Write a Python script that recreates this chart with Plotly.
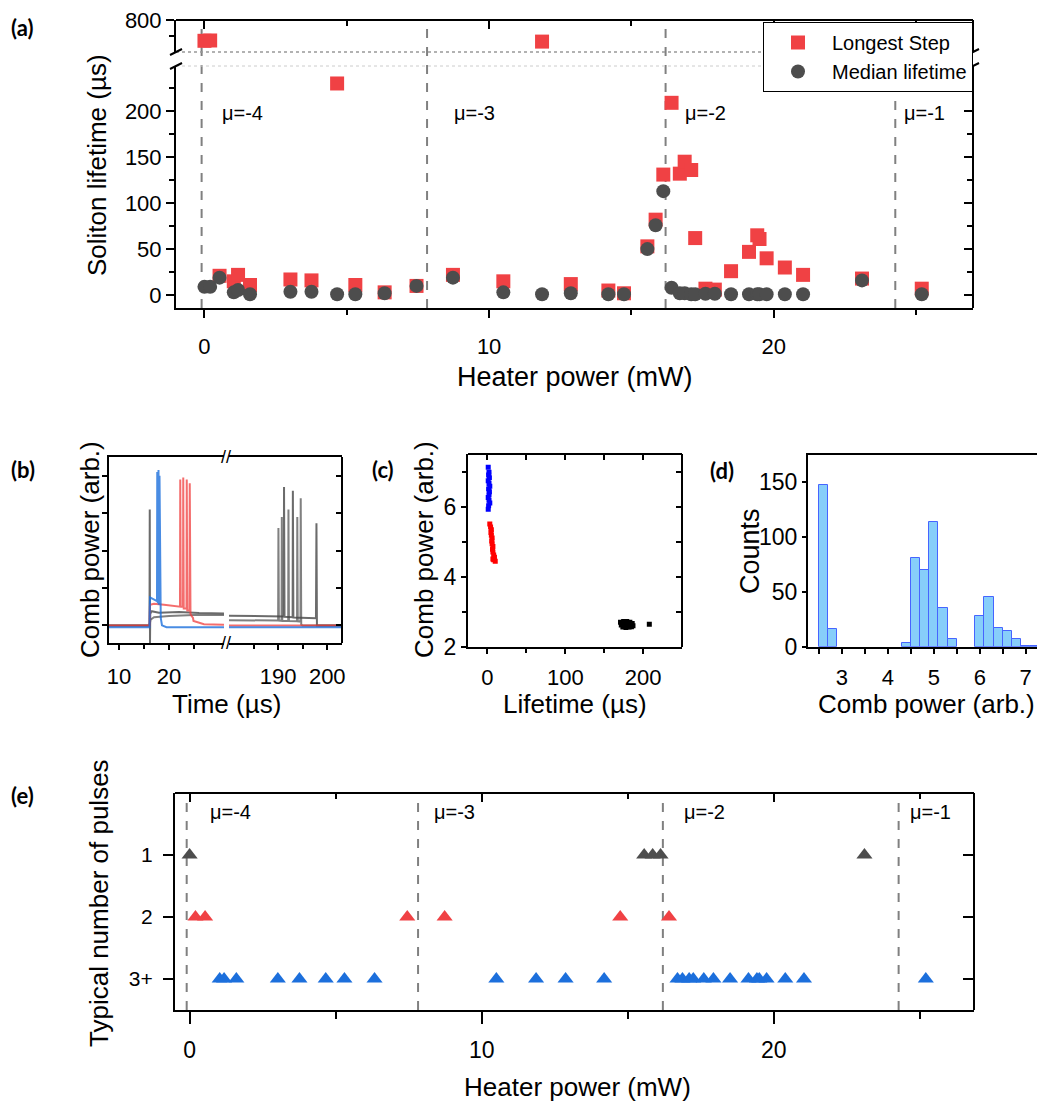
import plotly.graph_objects as go

W, H = 1045, 1102
OFF = 8  # the page body margin the figure is drawn inside
FONT = "Liberation Sans, Arial, sans-serif"

# ---- (a) and (e): heater power sweep ----
heater_mw = [0.0, 0.2, 0.53, 1.03, 1.18, 1.6, 3.02, 3.76, 4.66, 5.3, 6.33, 7.45, 8.73,
             10.5, 11.86, 12.87, 14.19, 14.74, 15.56, 15.85, 16.12, 16.41, 16.7, 16.87,
             17.1, 17.24, 17.6, 17.93, 18.5, 19.13, 19.42, 19.5, 19.75, 20.39, 21.03,
             23.1, 25.2]
longest_step_us = [670, 672, 21, 15, 22, 11, 17, 16, 230, 11, 3, 10, 22,
                   15, 665, 12, 5, 2, 53, 82, 131, 209, 132, 145,
                   136, 62, 7, 6, 26, 47, 65, 61, 40, 30, 22,
                   18, 7]
median_lifetime_us = [9, 9, 19, 3, 5.5, 1, 3.6, 3.6, 1, 1, 2, 10, 19,
                      3, 1, 2, 1, 1, 50, 76, 113, 8, 2, 2,
                      1, 1, 1.5, 1.5, 1, 1, 1, 1, 1, 1, 1,
                      16, 1]
typical_pulses = [1, 2, 2, 3, 3, 3, 3, 3, 3, 3, 3, 2, 2,
                  3, 3, 3, 3, 2, 1, 1, 1, 2, 3, 3,
                  3, 3, 3, 3, 3, 3, 3, 3, 3, 3, 3,
                  1, 3]
mu_edges_mw = [-0.1, 7.82, 16.2, 24.27]
mu_labels = ["μ=-4", "μ=-3", "μ=-2", "μ=-1"]
mu_label_x_a = [0.53, 8.7, 16.8, 24.5]
mu_label_x_e = [0.62, 8.3, 16.85, 24.6]

# ---- (b): comb power traces vs time ----
blue_t = [8, 16.1, 16.2, 16.6, 17.2, 17.6, 17.65, 17.75, 17.9, 17.95, 18.1, 18.2, 18.35,
          18.6, 19.5, 31, 180, 203]
blue_p = [-0.05, -0.05, 0.75, 0.72, 0.68, 0.65, 4.1, 0.6, 4.15, 0.55, 4.0, 0.5, 0.2,
          0.0, -0.05, -0.05, -0.05, -0.05]
red_t = [8, 16.1, 16.2, 17, 19, 21, 22.2, 22.25, 22.35, 22.8, 22.85, 22.95, 23.5, 23.55,
         23.65, 24.1, 24.15, 24.3, 24.8, 24.9, 25.5, 27, 31, 180, 203]
red_p = [0, 0, 0.55, 0.58, 0.55, 0.52, 0.5, 3.9, 0.5, 0.5, 3.95, 0.45, 0.45, 3.9,
         0.4, 0.4, 3.8, 0.3, 0.2, 0.12, 0.1, 0.03, 0.02, 0.0, 0.0]
gray1_t = [8, 16.1, 16.15, 16.2, 16.25, 16.5, 18, 22, 26, 31, 180, 186, 191.15, 191.2,
           191.3, 192.95, 193.0, 193.1, 197.7, 197.8, 197.9, 203]
gray1_p = [0, 0, 3.1, -0.47, 0.3, 0.38, 0.34, 0.36, 0.33, 0.32, 0.26, 0.25, 0.24, 3.7,
           0.23, 0.22, 3.6, 0.21, 0.19, 2.73, 0.0, 0.0]
gray2_t = [8, 16.1, 16.3, 17, 20, 25, 31, 180, 190.0, 190.06, 190.15, 190.7, 190.75,
           190.85, 192.05, 192.1, 192.2, 193.85, 193.9, 194.0, 194.55, 194.6, 194.7, 195, 203]
gray2_p = [0, 0, 0.15, 0.22, 0.25, 0.28, 0.28, 0.14, 0.13, 2.6, 0.13, 0.12, 2.9,
           0.12, 0.12, 3.1, 0.12, 0.11, 2.9, 0.11, 0.1, 3.4, 0.02, 0.0, 0.0]

# ---- (c): comb power vs lifetime ----
blue_life = [1, 2, 1.5, 2.5, 1, 2, 3, 1.5, 2.5, 2, 1, 2, 3, 1.5, 1]
blue_power = [7.12, 6.98, 6.9, 6.82, 6.74, 6.66, 6.58, 6.5, 6.42, 6.34, 6.26, 6.18, 6.1, 6.02, 5.92]
red_life = [3, 4, 5, 4.5, 5, 6, 5.5, 6, 7, 6.5, 7, 8, 9, 8, 10, 7]
red_power = [5.5, 5.42, 5.34, 5.26, 5.18, 5.1, 5.02, 4.94, 4.86, 4.78, 4.7, 4.62, 4.55, 4.48, 4.44, 4.5]
black_life = [171, 175, 179, 183, 186, 172, 176, 180, 184, 187, 174, 178, 182, 185, 208]
black_power = [2.7, 2.72, 2.72, 2.7, 2.66, 2.62, 2.63, 2.62, 2.62, 2.6, 2.56, 2.55, 2.56, 2.57, 2.64]

# ---- (d): histogram of comb power ----
bin_left = [2.5, 2.7, 4.3, 4.5, 4.7, 4.9, 5.1, 5.3, 5.9, 6.1, 6.3, 6.5, 6.7, 6.9, 7.1]
bin_counts = [148, 16, 3, 81, 70, 114, 35, 7, 28, 45, 17, 14, 7, 1, 1]
bin_width = 0.2

RED = "#f04144"
GRAY = "#4d4d4d"
BLUE = "#1c6fdc"
A_TOP = 20  # top frame of panel (a), page px


def fx(x):
    return (x - OFF) / W


def fy(y):
    return 1 - (y - OFF) / H


def axis(size=22, **kw):
    d = dict(showline=True, linecolor="black", linewidth=2, ticks="outside",
             tickcolor="black", tickwidth=2, ticklen=8, showgrid=False, zeroline=False,
             automargin=False, ticklabeloverflow="allow",
             tickfont=dict(size=size, family=FONT, color="black"), tickmode="array")
    d.update(kw)
    return d


def minor(vals, ticks="outside", ln=5):
    return dict(ticks=ticks, tickvals=vals, ticklen=ln, tickwidth=2, tickcolor="black", showgrid=False)


def overlay(base, side, pos, rng, vals, mvals=None, **kw):
    d = axis(overlaying=base, side=side, anchor="free", position=pos, range=rng,
             ticks="inside", tickvals=vals, showticklabels=False, **kw)
    if mvals:
        d["minor"] = minor(mvals, "inside")
    return d


fig = go.Figure()

# (a)
lo_x = [x for x, v in zip(heater_mw, longest_step_us) if v < 250]
lo_v = [v for v in longest_step_us if v < 250]
hi_x = [x for x, v in zip(heater_mw, longest_step_us) if v >= 250]
hi_v = [v for v in longest_step_us if v >= 250]
fig.add_trace(go.Scatter(x=lo_x, y=lo_v, mode="markers", name="Longest Step",
                         marker=dict(symbol="square", size=14, color=RED), xaxis="x", yaxis="y"))
fig.add_trace(go.Scatter(x=hi_x, y=hi_v, mode="markers", showlegend=False,
                         marker=dict(symbol="square", size=14, color=RED), xaxis="x", yaxis="y2"))
fig.add_trace(go.Scatter(x=heater_mw, y=median_lifetime_us, mode="markers", name="Median lifetime",
                         marker=dict(symbol="circle", size=14, color=GRAY), xaxis="x", yaxis="y"))

# (b)
for ts, ps, col in [(gray2_t, gray2_p, "rgba(85,85,85,0.75)"), (gray1_t, gray1_p, "rgba(70,70,70,0.8)"),
                    (red_t, red_p, "rgba(240,60,60,0.75)"), (blue_t, blue_p, "rgba(28,111,220,0.8)")]:
    for xa, lo, hi in [("x3", 0, 100), ("x4", 100, 300)]:
        tt = [t for t in ts if lo <= t <= hi]
        pp = [p for t, p in zip(ts, ps) if lo <= t <= hi]
        fig.add_trace(go.Scatter(x=tt, y=pp, mode="lines", showlegend=False,
                                 line=dict(color=col, width=2), xaxis=xa, yaxis="y5"))

# (c)
for lx, ly, col in [(blue_life, blue_power, "#0000ff"), (red_life, red_power, "#ff0000"),
                    (black_life, black_power, "#000000")]:
    fig.add_trace(go.Scatter(x=lx, y=ly, mode="markers", showlegend=False,
                             marker=dict(symbol="square", size=5, color=col), xaxis="x5", yaxis="y7"))

# (d)
fig.add_trace(go.Bar(x=[b + bin_width / 2 for b in bin_left], y=bin_counts, width=bin_width,
                     marker=dict(color="rgb(135,206,250)", line=dict(color="rgb(70,100,255)", width=1)),
                     showlegend=False, xaxis="x7", yaxis="y9"))

# (e)
for k, col in [(1, GRAY), (2, RED), (3, BLUE)]:
    xs = [x for x, n in zip(heater_mw, typical_pulses) if n == k]
    fig.add_trace(go.Scatter(x=xs, y=[k] * len(xs), mode="markers", showlegend=False,
                             marker=dict(symbol="triangle-up", size=14, color=col), xaxis="x8", yaxis="y10"))

# empty traces so the mirrored frame axes (top / right) get drawn
for xa, ya in [("x2", "y2"), ("x", "y3"), ("x", "y4"), ("x4", "y6"), ("x6", "y7"),
               ("x5", "y8"), ("x9", "y10"), ("x8", "y11")]:
    fig.add_trace(go.Scatter(x=[None], y=[None], mode="markers", showlegend=False,
                             hoverinfo="skip", xaxis=xa, yaxis=ya))

shapes = []
annotations = []

# dashed mode boundaries
for e in mu_edges_mw:
    for xr, y0, y1 in [("x", 308, A_TOP), ("x8", 1010, 793)]:
        shapes.append(dict(type="line", xref=xr, yref="paper", x0=e, x1=e, y0=fy(y0), y1=fy(y1),
                           line=dict(color="#808080", width=2, dash="dash"), layer="below"))
for lab, xa, xe in zip(mu_labels, mu_label_x_a, mu_label_x_e):
    annotations.append(dict(x=xa, y=198, xref="x", yref="y", text=lab, showarrow=False,
                            xanchor="left", yanchor="middle", font=dict(size=20, family=FONT, color="black")))
    annotations.append(dict(x=xe, y=0.3, xref="x8", yref="y10", text=lab, showarrow=False,
                            xanchor="left", yanchor="middle", font=dict(size=20, family=FONT, color="black")))

# axis break in (a)
shapes.append(dict(type="line", xref="paper", yref="paper", x0=fx(176), x1=fx(973), y0=fy(52), y1=fy(52),
                   line=dict(color="#999999", width=1.5, dash="dot")))
shapes.append(dict(type="line", xref="paper", yref="paper", x0=fx(176), x1=fx(973), y0=fy(66), y1=fy(66),
                   line=dict(color="#cccccc", width=1, dash="dot")))
for xb in [176, 973]:
    for yb in [52, 66]:
        shapes.append(dict(type="line", xref="paper", yref="paper", x0=fx(xb - 6), x1=fx(xb + 6),
                           y0=fy(yb + 3), y1=fy(yb - 3), line=dict(color="black", width=2)))
# axis break in (b)
for yb in [457, 643]:
    annotations.append(dict(x=fx(226.5), y=fy(yb), xref="paper", yref="paper", text="//", showarrow=False,
                            xanchor="center", yanchor="middle", font=dict(size=18, family=FONT, color="black")))

# panel labels
for lab, x, y in [("(a)", 22, 28), ("(b)", 23, 469), ("(c)", 383, 469), ("(d)", 722, 470), ("(e)", 22, 795)]:
    annotations.append(dict(x=fx(x), y=fy(y), xref="paper", yref="paper", text=f"<b>{lab}</b>",
                            showarrow=False, xanchor="center", yanchor="middle",
                            font=dict(size=22, family="Lato, " + FONT, color="black")))

# axis titles
for txt, x, y, ang, sz in [
    ("Soliton lifetime (µs)", 97, 165, -90, 26), ("Heater power (mW)", 575, 377, 0, 27),
    ("Comb power (arb.)", 90, 550, -90, 26), ("Time (µs)", 226, 704, 0, 26),
    ("Comb power (arb.)", 424, 550, -90, 26), ("Lifetime (µs)", 575, 704, 0, 26),
    ("Counts", 750, 551, -90, 27), ("Comb power (arb.)", 926, 704, 0, 26),
    ("Typical number of pulses", 99, 903, -90, 26), ("Heater power (mW)", 577, 1087, 0, 26)]:
    annotations.append(dict(x=fx(x), y=fy(y), xref="paper", yref="paper", text=txt, textangle=ang,
                            showarrow=False, xanchor="center", yanchor="middle",
                            font=dict(size=sz, family=FONT, color="black")))

fig.update_layout(
    template="none",
    width=W, height=H, autosize=False, margin=dict(l=0, r=0, t=0, b=0, pad=0),
    paper_bgcolor="white", plot_bgcolor="white", font=dict(family=FONT, color="black"),
    bargap=0, hovermode="closest",
    legend=dict(x=fx(973), y=fy(A_TOP + 2), xanchor="right", yanchor="top", bgcolor="white",
                bordercolor="black", borderwidth=1, itemwidth=58, tracegroupgap=0,
                font=dict(size=20, family=FONT, color="black")),
    # (a)
    xaxis=axis(domain=[fx(176), fx(973)], anchor="y", range=[-1, 27], tickvals=[0, 10, 20],
               minor=minor([5, 15, 25]), ticklabelstandoff=10),
    xaxis2=overlay("x", "top", fy(A_TOP), [-1, 27], [0, 10, 20], [5, 15, 25]),
    yaxis=axis(domain=[fy(308), fy(66)], anchor="x", range=[-14, 249], tickvals=[0, 50, 100, 150, 200],
               minor=minor([25, 75, 125, 175, 225])),
    yaxis2=axis(domain=[fy(52), fy(A_TOP)], anchor="x", range=[600, 800], tickvals=[800], minor=minor([700])),
    yaxis3=overlay("y", "right", fx(973), [-14, 249], [0, 50, 100, 150, 200], [25, 75, 125, 175, 225]),
    yaxis4=overlay("y2", "right", fx(973), [600, 800], [800], [700]),
    # (b)
    xaxis3=axis(22, domain=[fx(109), fx(224)], anchor="y5", range=[8, 31], tickvals=[10, 20],
                minor=minor([15, 25], ln=4), mirror=True, ticklen=5, ticklabelstandoff=8),
    xaxis4=axis(22, domain=[fx(229), fx(342)], anchor="y5", range=[180, 203], tickvals=[190, 200],
                minor=minor([185, 195], ln=4), mirror=True, ticklen=5, ticklabelstandoff=8),
    yaxis5=axis(22, domain=[fy(643), fy(457)], anchor="x3", range=[-0.47, 4.5], tickvals=[0, 1, 2, 3, 4],
                showticklabels=False, ticklen=5),
    yaxis6=overlay("y5", "right", fx(342), [-0.47, 4.5], [0, 1, 2, 3, 4], ticklen=5),
    # (c)
    xaxis5=axis(22, domain=[fx(468), fx(682)], anchor="y7", range=[-25, 250], tickvals=[0, 100, 200],
                minor=minor([50, 150], ln=4), ticklen=5, ticklabelstandoff=5),
    xaxis6=overlay("x5", "top", fy(454), [-25, 250], [0, 100, 200], [50, 150], ticklen=5),
    yaxis7=axis(23, domain=[fy(646.7), fy(454)], anchor="x5", range=[2, 7.5], tickvals=[2, 4, 6],
                minor=minor([3, 5, 7], ln=4), ticklen=5),
    yaxis8=overlay("y7", "right", fx(682), [2, 7.5], [2, 4, 6], [3, 5, 7], ticklen=5),
    # (d)
    xaxis7=axis(22, domain=[fx(808), fx(1045)], anchor="y9", range=[2.26, 7.42], tickvals=[3, 4, 5, 6, 7],
                minor=minor([2.5, 3.5, 4.5, 5.5, 6.5], ln=5), mirror=True, ticklen=5, ticklabelstandoff=5),
    yaxis9=axis(23, domain=[fy(646.7), fy(455)], anchor="x7", range=[0, 175], tickvals=[0, 50, 100, 150],
                mirror=True, ticklen=4),
    # (e)
    xaxis8=axis(23, domain=[fx(175), fx(974)], anchor="y10", range=[-0.5, 26.85], tickvals=[0, 10, 20],
                minor=minor([5, 15, 25], ln=7), ticklen=12, ticklabelstandoff=6),
    xaxis9=overlay("x8", "top", fy(793), [-0.5, 26.85], [0, 10, 20], [5, 15, 25]),
    yaxis10=axis(21, domain=[fy(1010), fy(793)], anchor="x8", range=[3.5, 0], tickvals=[1, 2, 3],
                 ticktext=["1", "2", "3+"], ticklen=10, ticklabelstandoff=6),
    yaxis11=overlay("y10", "right", fx(974), [3.5, 0], [1, 2, 3], ticklen=10),
    shapes=shapes,
    annotations=annotations,
)

fig.write_html("out.html")
